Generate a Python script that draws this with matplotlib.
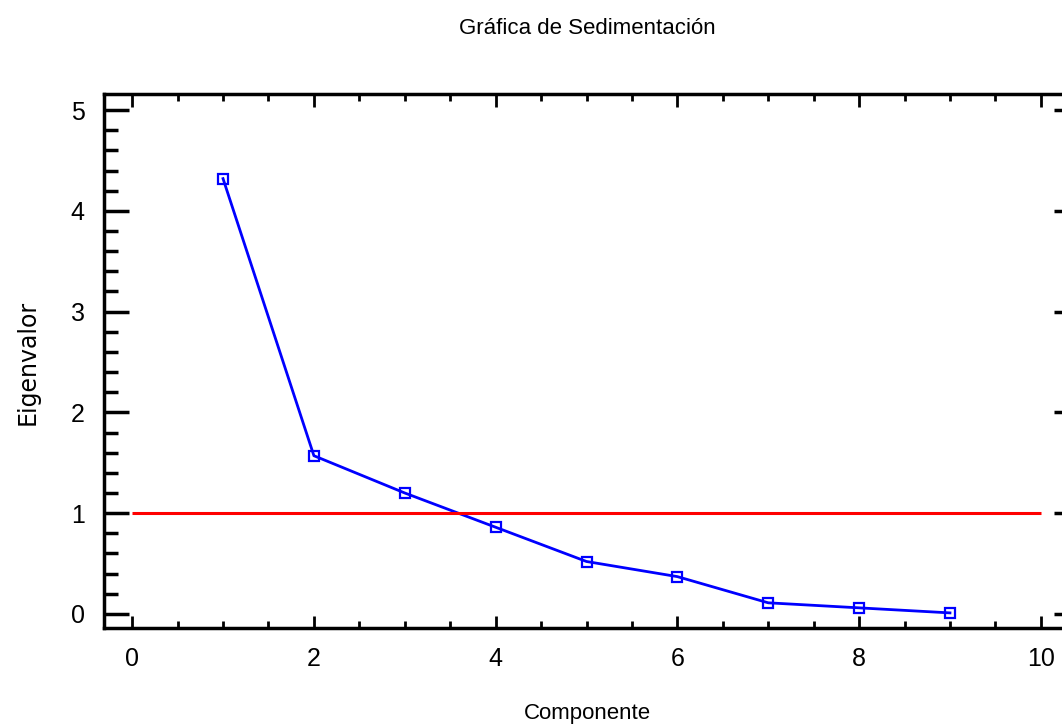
import numpy as np
from matplotlib import pyplot as plt
from matplotlib.ticker import MultipleLocator

# Datos
componente = [1, 2, 3, 4, 5, 6, 7, 8, 9]
eigenvalor = [4.32, 1.57, 1.20, 0.86, 0.52, 0.37, 0.11, 0.06, 0.01]
corte = 1.0
corte_x = [0, 10]

plt.rcParams['font.family'] = ['Liberation Sans Narrow', 'Liberation Sans', 'DejaVu Sans']

fig = plt.figure(figsize=(10.62, 7.25), dpi=100)
W, H = 1062, 725
ax = fig.add_axes([104 / W, 1 - 628 / H, (1069 - 104) / W, (628 - 94) / H])

ax.plot(componente, eigenvalor, color='#0000ff', lw=2,
        marker='s', markersize=6.5, mfc='none', mec='#0000ff', mew=1.6)
ax.hlines(corte, corte_x[0], corte_x[1], color='#ff0000', lw=2.2)

ax.set_xlim(-0.31, 10.31)
ax.set_ylim(-0.14, 5.16)

ax.xaxis.set_major_locator(MultipleLocator(2))
ax.xaxis.set_minor_locator(MultipleLocator(0.5))
ax.yaxis.set_major_locator(MultipleLocator(1))
ax.yaxis.set_minor_locator(MultipleLocator(0.2))

for s in ax.spines.values():
    s.set_linewidth(2.5)

ax.tick_params(axis='x', which='both', direction='in', top=True, bottom=True,
               labelsize=18, pad=14, width=2)
ax.tick_params(axis='x', which='major', length=9)
ax.tick_params(axis='x', which='minor', length=5)
ax.tick_params(axis='y', which='both', direction='in', left=True, right=False,
               labelsize=18, pad=14, width=2.5)
ax.tick_params(axis='y', which='major', length=18)
ax.tick_params(axis='y', which='minor', length=10)

# ticks del lado derecho
ax2 = ax.secondary_yaxis('right')
ax2.yaxis.set_major_locator(MultipleLocator(1))
ax2.yaxis.set_minor_locator(MultipleLocator(0.2))
ax2.tick_params(which='both', direction='in', labelright=False, width=2.5)
ax2.tick_params(which='major', length=11)
ax2.tick_params(which='minor', length=3)
ax2.spines['right'].set_linewidth(2.5)

fig.text(587 / W, 1 - 28 / H, 'Gráfica de Sedimentación', ha='center', va='center', fontsize=16)
fig.text(587 / W, 1 - 713 / H, 'Componente', ha='center', va='center', fontsize=16)
fig.text(28 / W, 1 - 362 / H, 'Eigenvalor', ha='center', va='center', rotation=90,
         fontsize=17, family=['DejaVu Sans'])

fig.savefig('out.png', dpi=100)
